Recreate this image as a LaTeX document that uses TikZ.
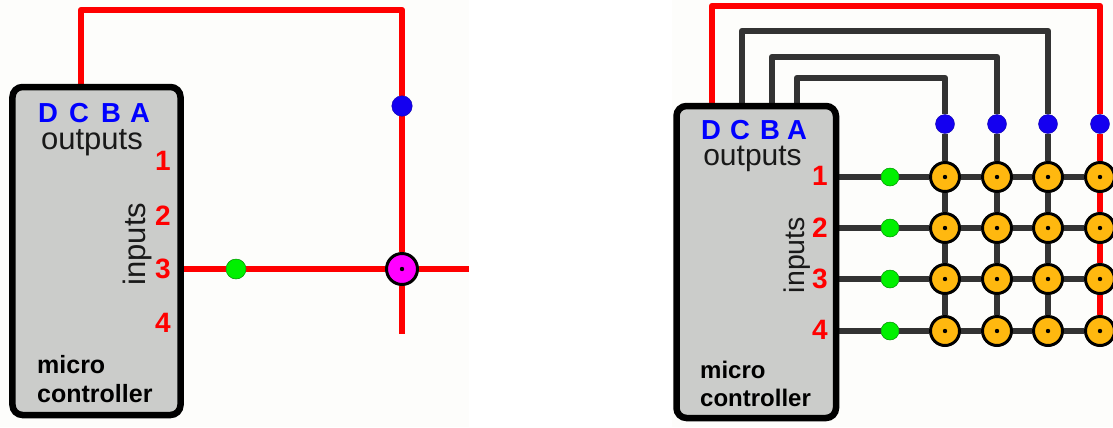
\documentclass[tikz,border=0pt]{standalone}
\usepackage{fontspec}
\setmainfont{Liberation Sans}
\usetikzlibrary{backgrounds}
\definecolor{panelbg}{HTML}{FDFDFB}
\definecolor{chipgrey}{HTML}{CBCCCA}
\definecolor{wiredark}{HTML}{333333}
\definecolor{wirered}{HTML}{FF0000}
\definecolor{dotblue}{HTML}{1400F0}
\definecolor{dotgreen}{HTML}{00F000}
\definecolor{junctionorange}{HTML}{FFB80F}
\definecolor{junctionpink}{HTML}{FF00FF}
\tikzset{
  chipbox/.style={draw=black,line width=6.5bp,fill=chipgrey,rounded corners=10bp,rectangle,inner sep=0pt},
  redwire/.style={draw=wirered,line width=6.5bp,line join=round},
  darkwire/.style={draw=wiredark,line width=6.5bp,line join=round},
  bluedot/.style={circle,fill=dotblue,draw=dotblue!70!black,line width=.4bp,minimum size=20bp,inner sep=0pt},
  greendot/.style={circle,fill=dotgreen,draw=dotgreen!60!black,line width=.5bp,minimum size=20bp,inner sep=0pt},
  crossing/.style={circle,draw=black,line width=3bp,minimum size=29bp,inner sep=0pt},
  txt/.style={inner sep=0pt,anchor=base,text height=0pt,text depth=0pt},
  outlab/.style={txt,text=blue,font=\fontsize{27.5bp}{27.5bp}\selectfont\bfseries},
  numlab/.style={txt,text=wirered,font=\fontsize{28bp}{28bp}\selectfont\bfseries},
  outputslab/.style={txt,text=black!90,font=\fontsize{31bp}{31bp}\selectfont},
  inputslab/.style={txt,text=black!90,rotate=90,anchor=base,font=\fontsize{#1}{#1}\selectfont},
  ctrllab/.style={txt,anchor=base west,text=black,font=\fontsize{#1}{#1}\selectfont\bfseries},
}
\begin{document}
\begin{tikzpicture}[x=1bp,y=-1bp]
\useasboundingbox (0,0) rectangle (1113,427);
\clip (0,0) rectangle (1113,427);
\begin{pgfonlayer}{background}
  \fill[white] (0,0) rectangle (1113,427);
  \fill[panelbg] (0,0) rectangle (469,427);
  \fill[panelbg] (672,0) rectangle (1113,427);
\end{pgfonlayer}

% ---------- left panel ----------
\node[chipbox,minimum width=168bp,minimum height=328bp] (chipL) at (96.5,251) {};
\coordinate (outL) at (81,87);
\coordinate (turnL) at (402,10);
\coordinate (endR) at (469,269);
\coordinate (endB) at (402,334);
\coordinate (inL) at (181,269);
\node[bluedot,minimum size=20.5bp] (bL) at (402,106) {};
\node[greendot] (gL) at (236,269) {};
\node[crossing,fill=junctionpink,minimum size=31bp] (xL) at (402,269) {};
\fill (xL) circle (2.2bp);
\begin{pgfonlayer}{background}
  \draw[redwire] (outL) |- (turnL) -- (bL);
  \draw[redwire] (bL) -- (xL);
  \draw[redwire] (xL) -- (endB);
  \draw[redwire] (inL) -- (gL);
  \draw[redwire] (gL) -- (xL);
  \draw[redwire] (xL) -- (endR);
\end{pgfonlayer}
\node[outlab] (lD) at (48,122) {D};
\node[outlab] (lC) at (79,122) {C};
\node[outlab] (lB) at (111,122) {B};
\node[outlab] (lA) at (140,122) {A};
\node[outputslab] (lOut) at (92,149) {outputs};
\node[inputslab=31bp] (lIn) at (145,244) {inputs};
\node[numlab] (l1) at (163,170) {1};
\node[numlab] (l2) at (163,225) {2};
\node[numlab] (l3) at (163,278) {3};
\node[numlab] (l4) at (163,332) {4};
\node[ctrllab=25bp] (lM) at (37,373) {micro};
\node[ctrllab=25bp] (lK) at (37,402) {controller};

% ---------- right panel ----------
\node[chipbox,minimum width=159.5bp,minimum height=312bp] (chipR) at (756.25,262) {};
\coordinate (o1) at (712,106);
\coordinate (o2) at (742,106);
\coordinate (o3) at (772,106);
\coordinate (o4) at (797,106);
\coordinate (t4) at (945,78);
\coordinate (t3) at (997,57);
\coordinate (t2) at (1048,31);
\coordinate (t1) at (1100,6);
\foreach \c/\x in {1/945,2/997,3/1048,4/1100}{
  \node[bluedot,minimum size=19bp] (b\c) at (\x,124) {};
  \foreach \r/\y in {1/177,2/228,3/279,4/331}{
    \node[crossing,fill=junctionorange] (j\r\c) at (\x,\y) {};
    \fill (j\r\c) circle (2.2bp);
  }
}
\foreach \r/\y in {1/177,2/228,3/279,4/331}{
  \node[greendot,minimum size=18bp] (g\r) at (890,\y) {};
  \coordinate (p\r) at (834,\y);
}
\begin{pgfonlayer}{background}
  \draw[redwire] (o1) |- (t1) -- (b4);
  \draw[darkwire] (o2) |- (t2) -- (b3);
  \draw[darkwire] (o3) |- (t3) -- (b2);
  \draw[darkwire] (o4) |- (t4) -- (b1);
  \foreach \c in {1,2,3}{
    \draw[darkwire] (b\c) -- (j1\c);
    \draw[darkwire] (j1\c) -- (j2\c);
    \draw[darkwire] (j2\c) -- (j3\c);
    \draw[darkwire] (j3\c) -- (j4\c);
  }
  \draw[redwire] (b4) -- (j14);
  \draw[redwire] (j14) -- (j24);
  \draw[redwire] (j24) -- (j34);
  \draw[redwire] (j34) -- (j44);
  \foreach \r in {1,2,3,4}{
    \draw[darkwire] (p\r) -- (g\r);
    \draw[darkwire] (g\r) -- (j\r1);
    \draw[darkwire] (j\r1) -- (j\r2);
    \draw[darkwire] (j\r2) -- (j\r3);
    \draw[darkwire] (j\r3) -- (j\r4);
  }
\end{pgfonlayer}
\node[outlab] (rD) at (711,139) {D};
\node[outlab] (rC) at (740,139) {C};
\node[outlab] (rB) at (770,139) {B};
\node[outlab] (rA) at (797,139) {A};
\node[outputslab,font=\fontsize{30bp}{30bp}\selectfont] (rOut) at (752.5,165) {outputs};
\node[inputslab=28.5bp] (rIn) at (804,255) {inputs};
\node[numlab] (r1) at (820,185) {1};
\node[numlab] (r2) at (820,237) {2};
\node[numlab] (r3) at (820,288) {3};
\node[numlab] (r4) at (820,339) {4};
\node[ctrllab=24bp] (rM) at (700,378) {micro};
\node[ctrllab=24bp] (rK) at (700,406) {controller};
\end{tikzpicture}
\end{document}
